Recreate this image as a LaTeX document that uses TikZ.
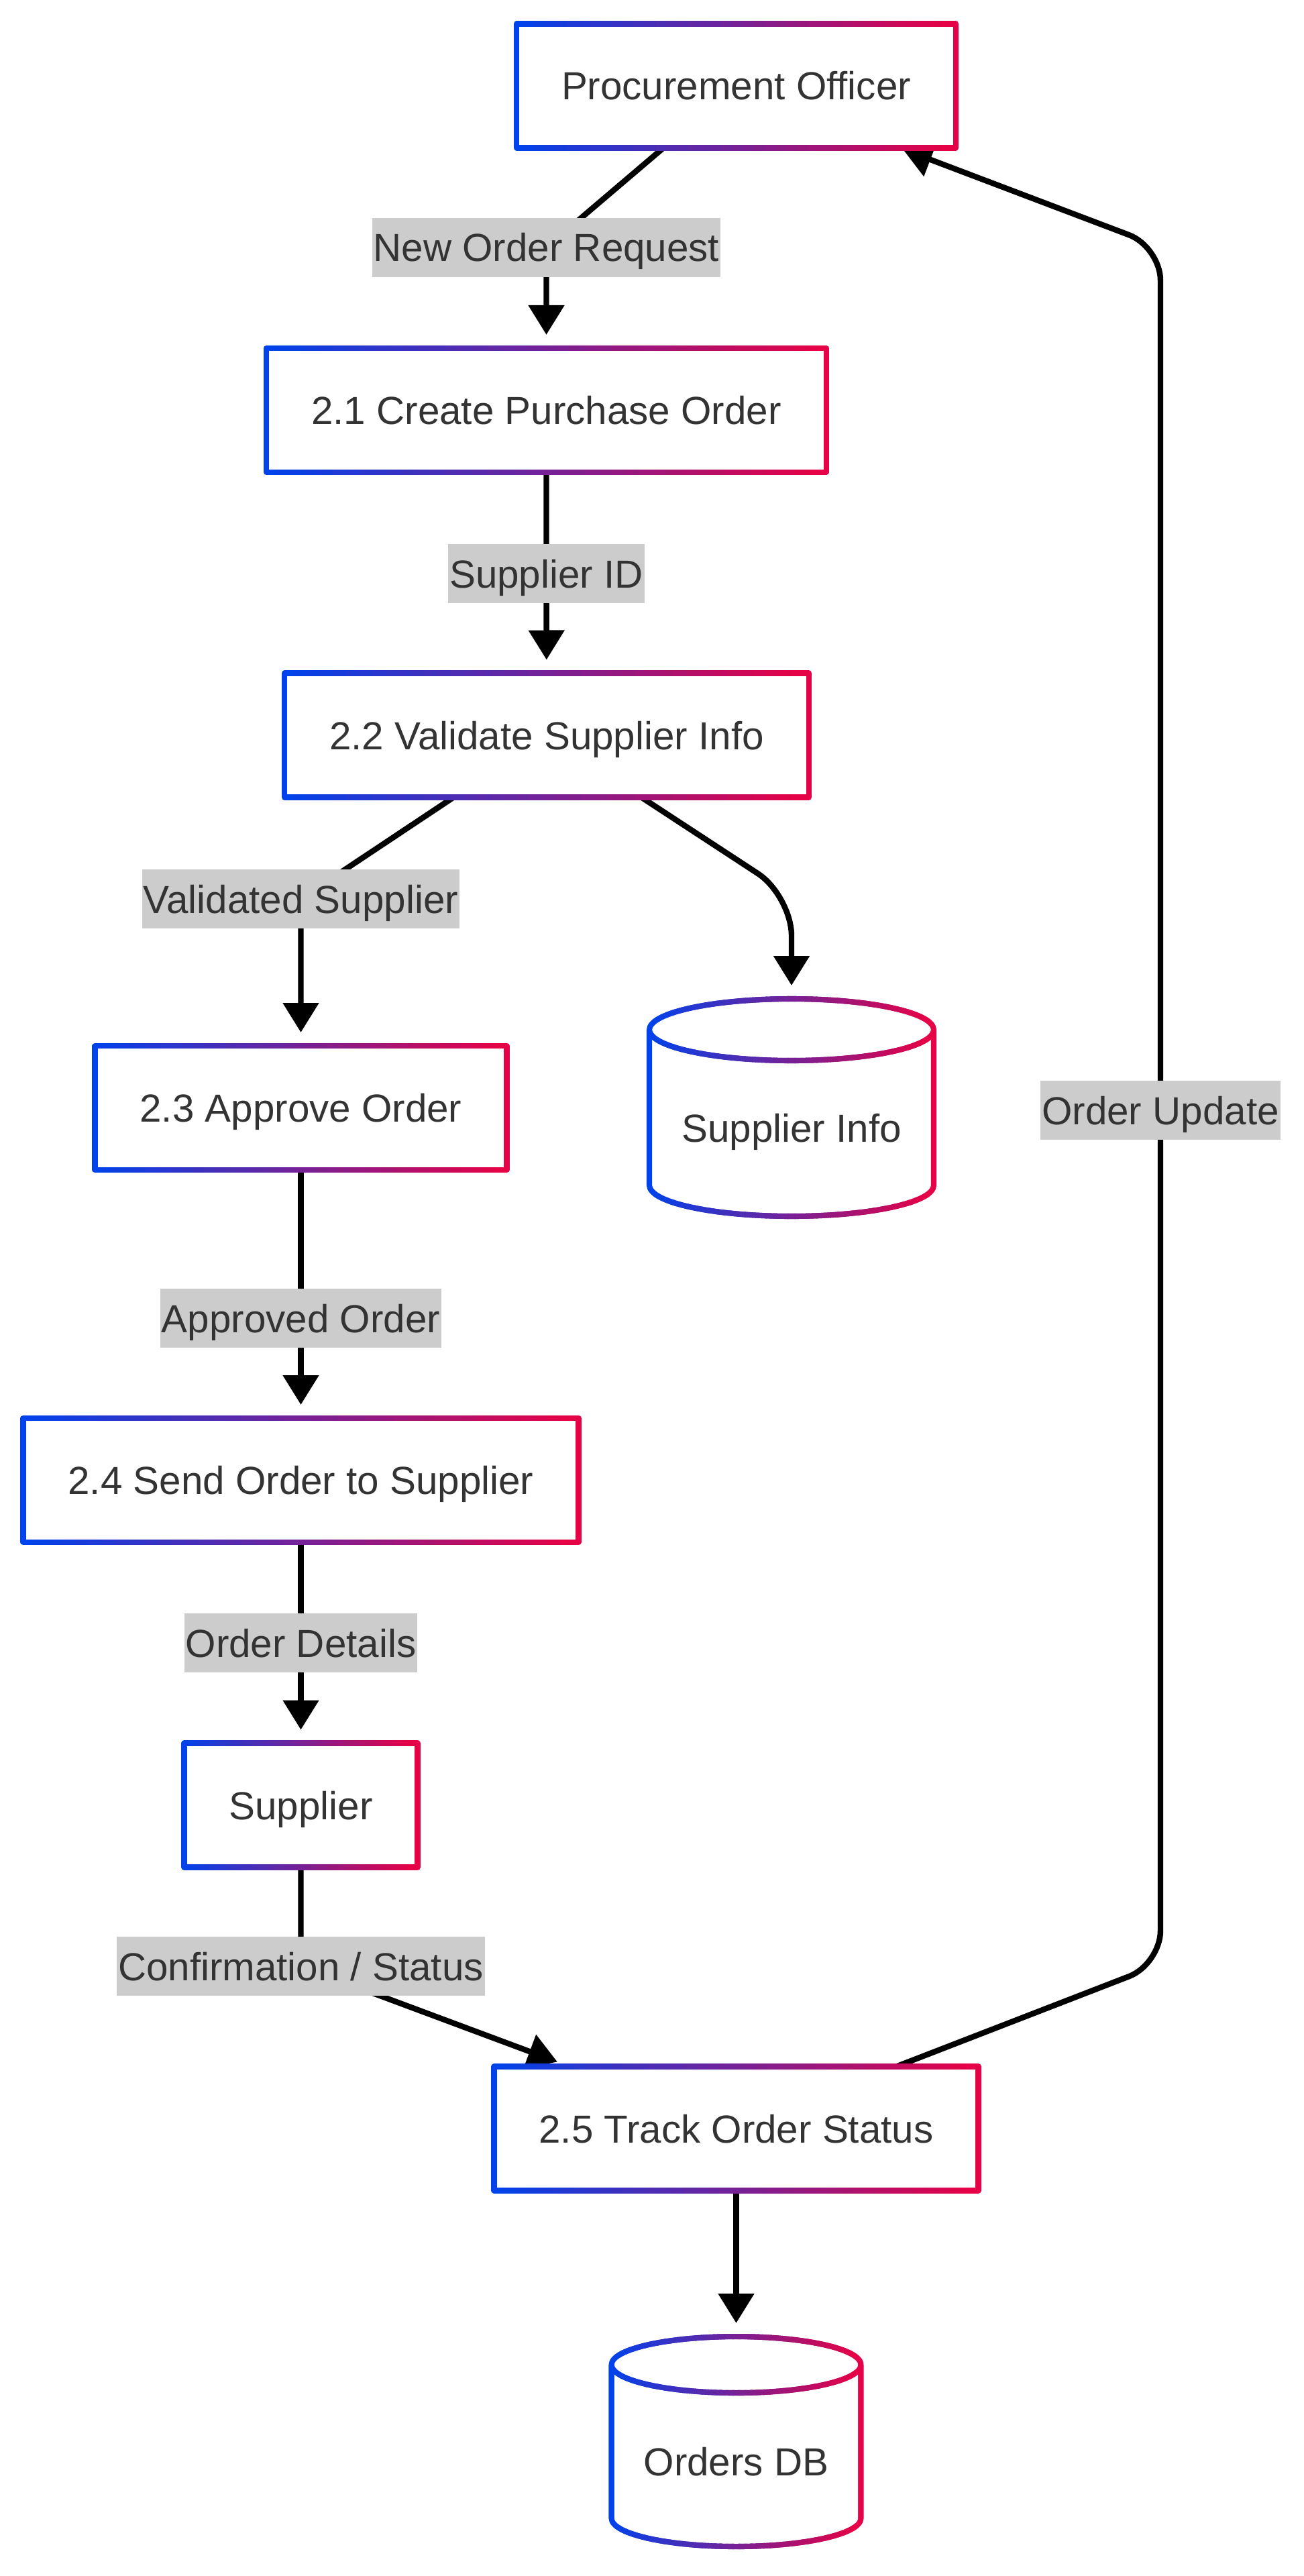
\documentclass[tikz,border=0pt]{standalone}
\usepackage{fontspec}
\setmainfont{Liberation Sans}
\usetikzlibrary{arrows.meta,calc,backgrounds}
\definecolor{bl}{HTML}{0042EB}
\definecolor{rd}{HTML}{EB0042}
\definecolor{txt}{HTML}{333333}
\definecolor{lab}{HTML}{CCCCCC}
\newcommand\dfdfont{\fontsize{16.6}{20}\selectfont}
% outline drawn in thin vertical strips, blue on the left to red on the right
\newcommand\gradborder[2]{%
  \foreach \k in {0,...,39}{%
    \pgfmathsetmacro\gmix{2.5*\k}%
    \begin{scope}
      \clip ($(#1.south west)!{\k/40}!(#1.south east)+(-0.06,-0.3)$) rectangle
            ($(#1.north west)!{(\k+1)/40}!(#1.north east)+(0.06,0.3)$);
      \draw[border, rd!\gmix!bl] #2;
    \end{scope}}}
\begin{document}
\begin{tikzpicture}[
    proc/.style={rectangle, fill=white, inner xsep=0.67cm, inner ysep=0pt,
      outer sep=0pt, minimum height=1.85cm, text height=0.42cm, text depth=0pt,
      font=\dfdfont, text=txt},
    store/.style={rectangle, inner sep=0pt, outer sep=0pt,
      text height=1.02cm, text depth=0pt, font=\dfdfont, text=txt},
    lbl/.style={fill=lab, inner xsep=0.02cm, inner ysep=0pt, minimum height=0.88cm,
      text height=0.42cm, text depth=0pt, font=\dfdfont, text=txt},
    flow/.style={line width=2.4pt, -{Triangle[length=0.44cm,width=0.52cm]},
      shorten >=0.2cm},
    border/.style={line width=2.3pt, line join=round}]
  \useasboundingbox (0,0) rectangle (19.43,-38.40);
  % processes and entities
  \node[proc] (po) at (10.975,-1.28) {Procurement Officer};
  \node[proc] (cpo) at (8.145,-6.115) {2.1 Create Purchase Order};
  \node[proc] (vsi) at (8.15,-10.96) {2.2 Validate Supplier Info};
  \node[proc] (apo) at (4.485,-16.515) {2.3 Approve Order};
  \node[proc] (sos) at (4.485,-22.065) {2.4 Send Order to Supplier};
  \node[proc] (sup) at (4.485,-26.91) {Supplier};
  \node[proc] (tos) at (10.975,-31.73) {2.5 Track Order Status};
  % data stores
  \node[store, minimum width=4.24cm, minimum height=3.24cm] (sdb) at (11.80,-16.51) {Supplier Info};
  \node[store, minimum width=3.72cm, minimum height=3.13cm] (odb) at (10.975,-36.395) {Orders DB};
  % flow labels
  \node[lbl] (nor) at (8.145,-3.69) {New Order Request};
  \node[lbl] (sid) at (8.145,-8.55) {Supplier ID};
  \node[lbl] (vs) at (4.485,-13.40) {Validated Supplier};
  \node[lbl] (ao) at (4.485,-19.65) {Approved Order};
  \node[lbl] (od) at (4.485,-24.49) {Order Details};
  \node[lbl] (cs) at (4.485,-29.31) {Confirmation / Status};
  \node[lbl] (ou) at (17.30,-16.55) {Order Update};
  \coordinate (sibend) at (11.80,-13.35);
  \coordinate (oulow) at (17.30,-29.28);
  \coordinate (ouhigh) at (17.30,-3.68);
  % outlines
  \foreach \n in {po,cpo,vsi,apo,sos,sup,tos}
    {\gradborder{\n}{(\n.south west) rectangle (\n.north east)}}
  \gradborder{sdb}{([yshift=-0.46cm]sdb.north west) -- ([yshift=0.46cm]sdb.south west)
    arc[start angle=180,end angle=360,x radius=2.12cm,y radius=0.46cm]
    -- ([yshift=-0.46cm]sdb.north east)
    ([yshift=-0.46cm]sdb.north) ellipse[x radius=2.12cm,y radius=0.46cm]}
  \gradborder{odb}{([yshift=-0.42cm]odb.north west) -- ([yshift=0.42cm]odb.south west)
    arc[start angle=180,end angle=360,x radius=1.86cm,y radius=0.42cm]
    -- ([yshift=-0.42cm]odb.north east)
    ([yshift=-0.42cm]odb.north) ellipse[x radius=1.86cm,y radius=0.42cm]}
  % flows
  \begin{scope}[on background layer]
    \fill[white] (0,0) rectangle (19.43,-38.40);
    \draw[flow] (po) -- (nor.center) -- (cpo);
    \draw[flow] (cpo) -- (sid.center) -- (vsi);
    \draw[flow] (vsi) -- (vs.center) -- (apo);
    \draw[flow, rounded corners=0.6cm] (vsi) -- (sibend) -- (sdb);
    \draw[flow] (apo) -- (ao.center) -- (sos);
    \draw[flow] (sos) -- (od.center) -- (sup);
    \draw[flow] (sup) -- (cs.center) -- (tos);
    \draw[flow] (tos) -- (odb);
    \draw[flow, rounded corners=0.5cm, shorten >=0.05cm]
      (tos) -- (oulow) -- (ou.center) -- (ouhigh) -- (po);
  \end{scope}
\end{tikzpicture}
\end{document}
